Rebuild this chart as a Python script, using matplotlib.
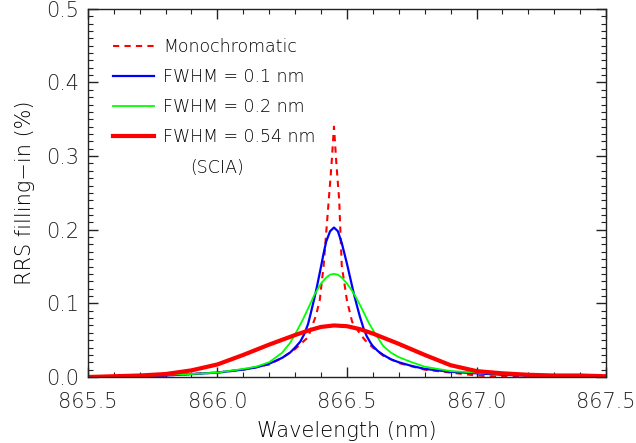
import matplotlib
matplotlib.use('Agg')
from matplotlib import pyplot as plt
from matplotlib.ticker import MultipleLocator, FormatStrFormatter

plt.rcParams['font.family'] = ['DejaVu Sans']
plt.rcParams['font.weight'] = 200
plt.rcParams['axes.labelweight'] = 200

# monochromatic RRS filling-in
mono_x = [865.65, 865.8, 865.9, 866.0, 866.1, 866.2, 866.25, 866.3, 866.35, 866.38,
          866.395, 866.41, 866.43, 866.44, 866.45, 866.46, 866.47, 866.48, 866.5, 866.52,
          866.55, 866.57, 866.6, 866.64, 866.7, 866.8, 866.9, 867.0, 867.1, 867.2,
          867.3, 867.4, 867.46]
mono_y = [0.0, 0.002, 0.004, 0.006, 0.010, 0.017, 0.026, 0.038, 0.054, 0.083,
          0.104, 0.151, 0.241, 0.286, 0.340, 0.286, 0.241, 0.151, 0.104, 0.075,
          0.059, 0.050, 0.040, 0.029, 0.019, 0.010, 0.006, 0.002, 0.0, 0.002,
          0.002, 0.002, 0.0]

# FWHM = 0.1 nm
f01_x = [865.65, 865.8, 865.9, 866.0, 866.1, 866.15, 866.2, 866.25, 866.28, 866.3,
         866.32, 866.335, 866.35, 866.36, 866.375, 866.385, 866.4, 866.41, 866.42, 866.435,
         866.45, 866.465, 866.48, 866.49, 866.5, 866.513, 866.526, 866.54, 866.55, 866.565,
         866.577, 866.59, 866.6, 866.62, 866.64, 866.67, 866.7, 866.75, 866.8, 866.9,
         867.0, 867.1, 867.2, 867.3, 867.4, 867.46]
f01_y = [0.0, 0.002, 0.004, 0.006, 0.010, 0.013, 0.018, 0.026, 0.033, 0.040,
         0.048, 0.058, 0.072, 0.086, 0.108, 0.124, 0.150, 0.168, 0.184, 0.198,
         0.203, 0.198, 0.182, 0.168, 0.154, 0.134, 0.114, 0.095, 0.082, 0.065,
         0.055, 0.047, 0.042, 0.035, 0.030, 0.024, 0.020, 0.015, 0.011, 0.007,
         0.005, 0.003, 0.002, 0.002, 0.002, 0.0]

# FWHM = 0.2 nm
f02_x = [865.7, 865.8, 865.9, 866.0, 866.1, 866.15, 866.2, 866.25, 866.28, 866.3,
         866.33, 866.35, 866.375, 866.4, 866.42, 866.435, 866.45, 866.465, 866.48, 866.5,
         866.52, 866.535, 866.55, 866.567, 866.585, 866.6, 866.62, 866.64, 866.67, 866.7,
         866.75, 866.8, 866.9, 867.0, 867.1, 867.2, 867.3, 867.45]
f02_y = [0.001, 0.003, 0.004, 0.006, 0.011, 0.014, 0.020, 0.033, 0.046, 0.058,
         0.078, 0.093, 0.112, 0.127, 0.135, 0.139, 0.140, 0.139, 0.135, 0.127,
         0.117, 0.108, 0.098, 0.086, 0.073, 0.064, 0.053, 0.042, 0.033, 0.027,
         0.020, 0.014, 0.008, 0.006, 0.004, 0.003, 0.002, 0.0]

# FWHM = 0.54 nm (SCIA)
f054_x = [865.5, 865.6, 865.7, 865.8, 865.9, 866.0, 866.1, 866.2, 866.3, 866.35,
          866.4, 866.45, 866.5, 866.55, 866.6, 866.7, 866.8, 866.9, 867.0, 867.1,
          867.2, 867.3, 867.4, 867.5]
f054_y = [0.0, 0.001, 0.002, 0.004, 0.009, 0.017, 0.030, 0.044, 0.057, 0.063,
          0.068, 0.070, 0.069, 0.065, 0.059, 0.045, 0.030, 0.016, 0.008, 0.005,
          0.003, 0.002, 0.002, 0.001]

fig = plt.figure(figsize=(6.36, 4.43), dpi=100)
ax = fig.add_axes([0.138, 0.149, 0.815, 0.831])

ax.plot(mono_x, mono_y, color='#ff0000', lw=1.5, dashes=(3, 2.5), label='Monochromatic')
ax.plot(f01_x, f01_y, color='#0000ff', lw=1.6, label='FWHM = 0.1 nm')
ax.plot(f02_x, f02_y, color='#00ff00', lw=1.3, label='FWHM = 0.2 nm')
ax.plot(f054_x, f054_y, color='#ff0000', lw=3.0, label='FWHM = 0.54 nm')

ax.set_xlim(865.5, 867.5)
ax.set_ylim(0, 0.5)
ax.xaxis.set_major_locator(MultipleLocator(0.5))
ax.xaxis.set_minor_locator(MultipleLocator(0.1))
ax.yaxis.set_major_locator(MultipleLocator(0.1))
ax.yaxis.set_minor_locator(MultipleLocator(0.01))
ax.xaxis.set_major_formatter(FormatStrFormatter('%.1f'))
ax.yaxis.set_major_formatter(FormatStrFormatter('%.1f'))
ax.tick_params(which='both', direction='in', top=True, right=True, labelsize=15, colors='#222222')
ax.tick_params(which='major', length=7, width=1)
ax.tick_params(which='minor', length=3.5, width=0.8)
ax.tick_params(axis='x', pad=10.5)
ax.tick_params(axis='y', pad=6)
for s in ax.spines.values():
    s.set_linewidth(1.0)
    s.set_color('#222222')

ax.set_xlabel('Wavelength (nm)', fontsize=15, labelpad=7)
ax.set_ylabel('RRS filling\u2212in (%)', fontsize=15, labelpad=8)

leg = ax.legend(loc='upper left', bbox_to_anchor=(-0.009, 1.0), frameon=False, fontsize=12.5,
                handlelength=2.4, handletextpad=0.5, labelspacing=0.68, borderaxespad=1.3)
ax.text(0.198, 0.555, '(SCIA)', transform=ax.transAxes, fontsize=12.5)

plt.savefig('out.png', dpi=100)
